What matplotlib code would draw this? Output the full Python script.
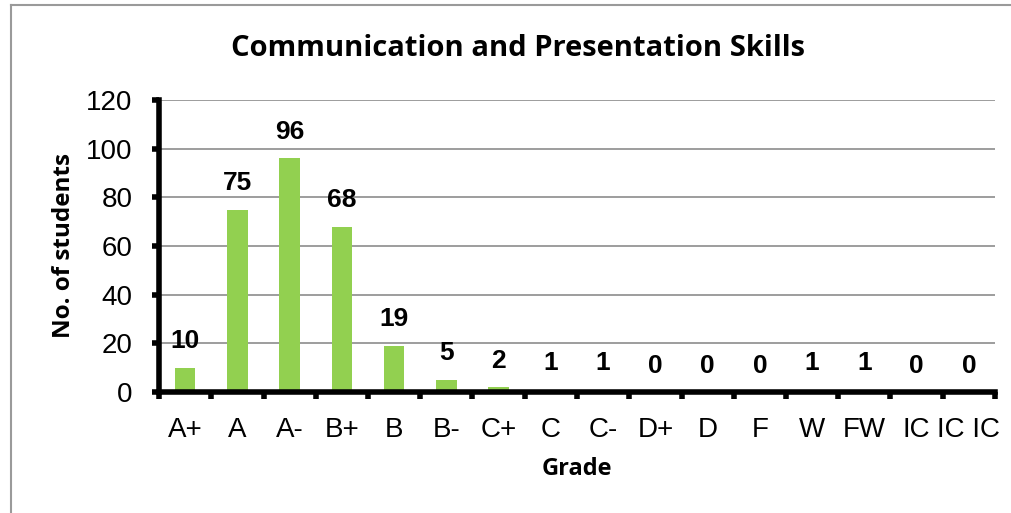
import matplotlib
matplotlib.use("Agg")
import matplotlib.pyplot as plt
from matplotlib.lines import Line2D

categories = ["A+", "A", "A-", "B+", "B", "B-", "C+", "C", "C-", "D+", "D", "F", "W", "FW", "IC", "IC IC"]
values = [10, 75, 96, 68, 19, 5, 2, 1, 1, 0, 0, 0, 1, 1, 0, 0]
yticks = [0, 20, 40, 60, 80, 100, 120]

W, H = 1011, 513
fig = plt.figure(figsize=(W / 100, H / 100), dpi=100)
ax = fig.add_axes([159 / W, 1 - 392 / H, (995 - 159) / W, (392 - 100) / H])

x = list(range(len(categories)))
bars = ax.bar(x, values, width=0.39, color="#92D050", zorder=3)
ax.set_xlim(-0.5, len(categories) - 0.5)
ax.set_ylim(0, 120)
ax.set_yticks(yticks)
ax.set_yticklabels([str(v) for v in yticks], fontsize=20, family="Liberation Sans")
ax.set_xticks(x)
ax.set_xticklabels(categories, fontsize=20, family="Liberation Sans")
ax.tick_params(axis="x", which="major", length=0, pad=18)
ax.set_xticks([i + 0.5 for i in range(-1, len(categories))], minor=True)
ax.tick_params(axis="x", which="minor", length=5, width=4, direction="out")
ax.tick_params(axis="y", which="major", length=5, width=4, direction="out", pad=14)

ax.grid(axis="y", color="#8c8c8c", linewidth=1.2, zorder=0)
ax.set_axisbelow(True)
for s in ["top", "right"]:
    ax.spines[s].set_visible(False)
for s in ["left", "bottom"]:
    ax.spines[s].set_linewidth(4)
    ax.spines[s].set_zorder(5)

for xi, v in zip(x, values):
    ax.annotate(str(v), (xi, v), xytext=(0, 19), textcoords="offset points",
                ha="center", va="center", fontsize=19, fontweight="bold",
                family="Liberation Sans")

ax.set_ylabel("No. of students", fontsize=17.5, fontweight="bold", family="Open Sans", labelpad=7)
ax.set_xlabel("Grade", fontsize=17, fontweight="bold", family="Open Sans", labelpad=10)
fig.text(518 / W, 1 - 48 / H, "Communication and Presentation Skills", ha="center", va="center",
         fontsize=21, fontweight="bold", family="Open Sans")

fig.add_artist(Line2D([11 / W, 11 / W], [0, 1 - 5 / H], transform=fig.transFigure, color="#9a9a9a", linewidth=1.5))
fig.add_artist(Line2D([11 / W, 1], [1 - 5 / H, 1 - 5 / H], transform=fig.transFigure, color="#9a9a9a", linewidth=1.5))

fig.savefig("out.png", dpi=100)
